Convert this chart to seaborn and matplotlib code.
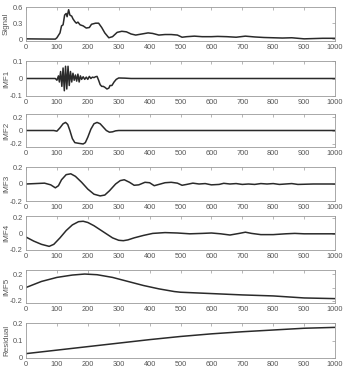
import numpy as np
import pandas as pd
import matplotlib
matplotlib.use("Agg")
import matplotlib.pyplot as plt
import seaborn as sns

# values
sig_x = [0, 50, 95, 100, 110, 115, 120, 125, 130, 133, 138, 142, 148, 152, 158, 163,
         168, 175, 185, 195, 205, 212, 225, 235, 245, 255, 268, 280, 295, 310, 325,
         340, 355, 375, 395, 410, 430, 450, 470, 490, 505, 520, 545, 570, 600, 620,
         650, 680, 710, 740, 770, 800, 830, 860, 880, 900, 930, 960, 1000]
sig_y = [0.01, 0.007, 0.005, 0.03, 0.12, 0.25, 0.27, 0.45, 0.48, 0.42, 0.55, 0.45,
         0.43, 0.38, 0.33, 0.30, 0.32, 0.27, 0.25, 0.21, 0.22, 0.28, 0.30, 0.30, 0.22,
         0.12, 0.03, 0.05, 0.13, 0.15, 0.14, 0.10, 0.08, 0.10, 0.12, 0.11, 0.08, 0.09,
         0.09, 0.08, 0.04, 0.05, 0.06, 0.05, 0.05, 0.055, 0.05, 0.04, 0.06, 0.045,
         0.035, 0.03, 0.025, 0.03, 0.02, 0.01, 0.015, 0.02, 0.02]

imf1_x = [0, 95, 100, 105, 108, 112, 116, 120, 124, 128, 132, 136, 140, 144, 148, 152,
          156, 160, 164, 168, 172, 176, 180, 185, 190, 195, 200, 205, 210, 215, 220,
          225, 230, 235, 240, 245, 250, 255, 262, 268, 272, 278, 285, 292, 300, 320,
          340, 1000]
imf1_y = [0, 0, -0.01, 0.015, -0.02, 0.04, -0.045, 0.06, -0.07, 0.07, -0.06, 0.07,
          -0.04, 0.04, -0.02, 0.03, -0.01, 0.02, -0.015, 0.025, -0.02, 0.015, -0.005,
          0.01, -0.005, 0.008, -0.005, 0.012, 0.0, 0.008, 0.005, 0.01, 0.012, -0.01,
          -0.035, -0.045, -0.045, -0.05, -0.06, -0.055, -0.04, -0.04, -0.02, -0.005,
          0.003, 0.002, 0.0, 0.0]

imf2_x = [0, 90, 95, 100, 110, 120, 128, 135, 142, 150, 158, 170, 185, 192, 200, 210,
          220, 230, 240, 250, 260, 270, 280, 290, 300, 1000]
imf2_y = [0, 0, -0.005, -0.01, 0.04, 0.10, 0.12, 0.09, 0.0, -0.12, -0.18, -0.19,
          -0.2, -0.18, -0.1, 0.02, 0.10, 0.12, 0.10, 0.05, 0.0, -0.025, -0.02, -0.005,
          0.0, 0.0]

imf3_x = [0, 30, 60, 80, 95, 105, 115, 130, 145, 160, 180, 200, 220, 240, 255, 270,
          290, 305, 318, 335, 350, 365, 385, 400, 415, 430, 450, 470, 490, 505, 520,
          540, 560, 580, 600, 625, 640, 660, 680, 700, 720, 740, 760, 780, 800, 820,
          840, 860, 880, 900, 930, 960, 1000]
imf3_y = [0, 0.005, 0.01, -0.01, -0.045, -0.02, 0.05, 0.11, 0.12, 0.09, 0.02, -0.06,
          -0.12, -0.14, -0.13, -0.08, 0.0, 0.04, 0.05, 0.02, -0.015, -0.01, 0.02, 0.015,
          -0.02, -0.005, 0.015, 0.02, 0.01, -0.015, -0.005, 0.01, 0.0, 0.005, -0.01,
          -0.005, 0.008, 0.0, 0.005, -0.005, 0.0, -0.005, 0.005, 0.0, 0.005, -0.005,
          0.0, 0.005, -0.005, -0.003, 0.0, 0.0, 0.0]

imf4_x = [0, 25, 50, 75, 90, 110, 130, 150, 170, 185, 200, 220, 240, 260, 280, 300,
          315, 330, 350, 380, 410, 450, 490, 530, 570, 600, 630, 660, 690, 710, 730,
          760, 800, 840, 870, 900, 940, 1000]
imf4_y = [-0.04, -0.09, -0.13, -0.155, -0.13, -0.05, 0.04, 0.11, 0.15, 0.155, 0.14,
          0.10, 0.05, 0.0, -0.05, -0.08, -0.085, -0.075, -0.05, -0.02, 0.005, 0.015,
          0.01, 0.0, 0.005, 0.01, 0.0, -0.015, 0.005, 0.02, 0.005, -0.01, -0.01, 0.0,
          0.005, 0.0, 0.0, 0.0]

imf5_x = [0, 50, 100, 150, 190, 230, 280, 330, 380, 430, 480, 500, 600, 700, 800,
          850, 900, 950, 1000]
imf5_y = [0.0, 0.09, 0.15, 0.185, 0.2, 0.19, 0.15, 0.09, 0.03, -0.02, -0.06, -0.07,
          -0.09, -0.11, -0.125, -0.14, -0.155, -0.16, -0.165]

res_x = [0, 100, 200, 300, 400, 500, 600, 700, 800, 900, 1000]
res_y = [0.025, 0.045, 0.065, 0.085, 0.105, 0.123, 0.138, 0.15, 0.16, 0.17, 0.175]

names = ["Signal", "IMF1", "IMF2", "IMF3", "IMF4", "IMF5", "Residual"]
series = [(sig_x, sig_y), (imf1_x, imf1_y), (imf2_x, imf2_y), (imf3_x, imf3_y),
          (imf4_x, imf4_y), (imf5_x, imf5_y), (res_x, res_y)]
ylims = [(-0.03, 0.6), (-0.1, 0.1), (-0.245, 0.245), (-0.2, 0.2), (-0.2, 0.22),
         (-0.23, 0.26), (0, 0.2)]
yticks = [[0, 0.3, 0.6], [-0.1, 0, 0.1], [-0.2, 0, 0.2], [-0.2, 0, 0.2],
          [-0.2, 0, 0.2], [-0.2, 0, 0.2], [0, 0.1, 0.2]]
ytlabels = [["0", "0.3", "0.6"], ["-0.1", "0", "0.1"], ["-0.2", "0", "0.2"],
            ["-0.2", "0", "0.2"], ["-0.2", "0", "0.2"], ["-0.2", "0", "0.2"],
            ["0", "0.1", "0.2"]]
# pixel boxes (top, bottom) of each panel
boxes = [(7, 41), (61, 96), (114, 147), (167, 201), (216, 250), (270, 303), (323, 358)]

sns.set_style("white")
plt.rcParams['font.family'] = ['Liberation Sans', 'DejaVu Sans']

W, H = 348, 378
fig = plt.figure(figsize=(W / 100, H / 100), dpi=100)
grey = "#9a9a9a"
txt = "#555555"

for i, name in enumerate(names):
    top, bot = boxes[i]
    ax = fig.add_axes([26 / W, 1 - bot / H, (335 - 26) / W, (bot - top) / H])
    df = pd.DataFrame({"x": series[i][0], "y": series[i][1]})
    sns.lineplot(data=df, x="x", y="y", ax=ax, color="#2a2a2a", linewidth=1.1)
    ax.set_xlim(0, 1000)
    ax.set_ylim(*ylims[i])
    ax.set_xticks(range(0, 1001, 100))
    ax.set_yticks(yticks[i])
    ax.set_yticklabels(ytlabels[i])
    ax.set_xlabel("")
    ax.set_ylabel(name, fontsize=5.8, color=txt, labelpad=1)
    ax.yaxis.set_label_coords(-0.052, 0.5)
    ax.tick_params(direction="in", length=2, width=0.5, colors=grey,
                   labelcolor=txt, labelsize=5.3, top=True, right=True, pad=2.5)
    for s in ax.spines.values():
        s.set_color(grey)
        s.set_linewidth(0.6)

fig.savefig("out.png", dpi=100)
